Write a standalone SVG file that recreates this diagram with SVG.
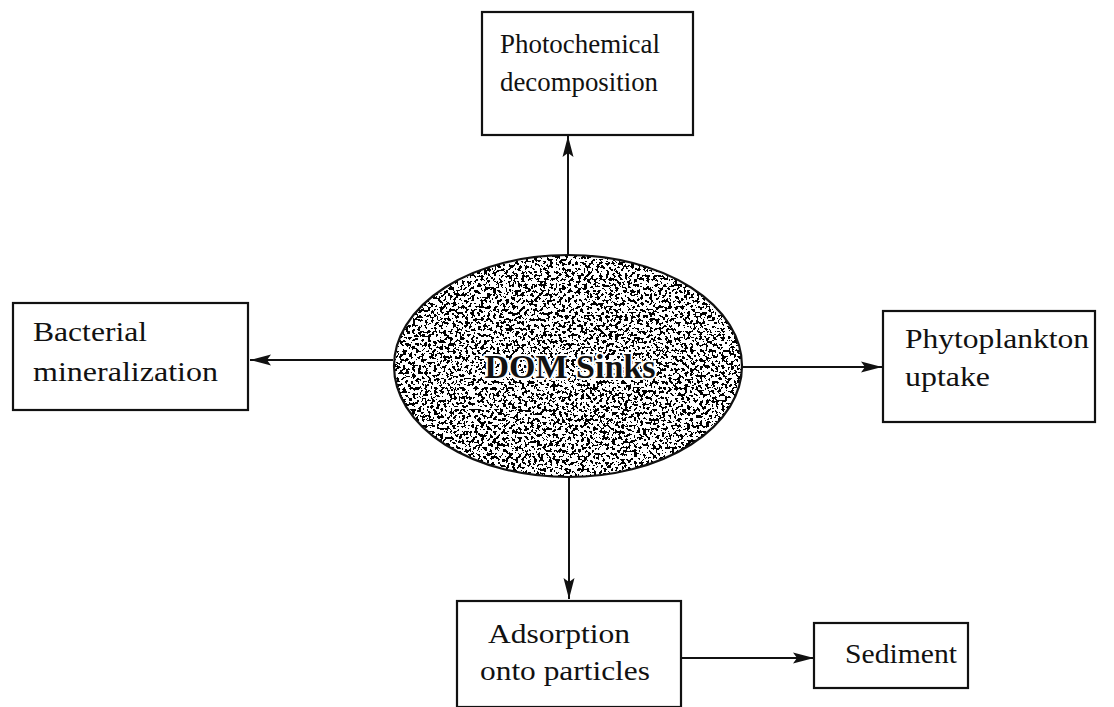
<svg xmlns="http://www.w3.org/2000/svg" width="1114" height="707" viewBox="0 0 1114 707">
  <style>
    .box { fill: #fff; stroke: #111; stroke-width: 2.2; }
    .lbl { font-family: "Liberation Serif", "Times New Roman", serif; font-size: 28px; fill: #111; }
    .conn { stroke: #111; stroke-width: 2; fill: none; marker-end: url(#arrow); }
    .title { font-family: "Liberation Serif", "Times New Roman", serif; font-weight: bold; font-size: 34px; fill: #111; stroke: #fff; stroke-width: 4; paint-order: stroke; stroke-linejoin: round; }
  </style>
  <defs>
    <marker id="arrow" markerUnits="userSpaceOnUse" markerWidth="22" markerHeight="12" refX="21" refY="6" orient="auto">
      <path d="M0,0.5 L21,6 L0,11.5 L4,6 Z" fill="#111"/>
    </marker>
    <!-- speckled grey fill for the central ellipse -->
    <filter id="grain" x="0" y="0" width="1" height="1">
      <feTurbulence type="fractalNoise" baseFrequency="0.32" numOctaves="2" seed="7" result="noise"/>
      <feColorMatrix in="noise" type="matrix" values="0 0 0 0 0  0 0 0 0 0  0 0 0 0 0  1 0 0 0 0" result="dots"/>
      <feComponentTransfer in="dots" result="bw">
        <feFuncA type="discrete" tableValues="0 0 0 0 0 0 1 1 1 1 1"/>
      </feComponentTransfer>
      <feComposite in="bw" in2="SourceAlpha" operator="in" result="clip"/>
      <feMerge>
        <feMergeNode in="SourceGraphic"/>
        <feMergeNode in="clip"/>
      </feMerge>
    </filter>
  </defs>

  <rect width="1114" height="707" fill="#fff"/>

  <g id="connectors">
    <line class="conn" x1="568" y1="255" x2="568" y2="136"/>
    <line class="conn" x1="393" y1="360" x2="250" y2="360"/>
    <line class="conn" x1="743" y1="367" x2="882" y2="367"/>
    <line class="conn" x1="569" y1="477" x2="569" y2="599"/>
    <line class="conn" x1="681" y1="658" x2="814" y2="658"/>
  </g>

  <g id="dom-sinks">
    <ellipse cx="568" cy="366" rx="174" ry="111" fill="#fff" filter="url(#grain)"/>
    <ellipse cx="568" cy="366" rx="174" ry="111" fill="none" stroke="#111" stroke-width="2.2"/>
    <text class="title" x="570" y="378" text-anchor="middle">DOM Sinks</text>
  </g>

  <g id="photochemical">
    <rect class="box" x="482" y="12" width="211" height="123"/>
    <text class="lbl" x="500" y="53" textLength="160" lengthAdjust="spacingAndGlyphs">Photochemical</text>
    <text class="lbl" x="500" y="91" textLength="158" lengthAdjust="spacingAndGlyphs">decomposition</text>
  </g>

  <g id="bacterial">
    <rect class="box" x="13" y="303" width="235" height="107"/>
    <text class="lbl" x="33" y="341" textLength="114" lengthAdjust="spacingAndGlyphs">Bacterial</text>
    <text class="lbl" x="33" y="381" textLength="185" lengthAdjust="spacingAndGlyphs">mineralization</text>
  </g>

  <g id="phytoplankton">
    <rect class="box" x="883" y="311" width="212" height="111"/>
    <text class="lbl" x="905" y="348" textLength="184" lengthAdjust="spacingAndGlyphs">Phytoplankton</text>
    <text class="lbl" x="905" y="386" textLength="85" lengthAdjust="spacingAndGlyphs">uptake</text>
  </g>

  <g id="adsorption">
    <rect class="box" x="457" y="601" width="224" height="106"/>
    <text class="lbl" x="488" y="643" textLength="142" lengthAdjust="spacingAndGlyphs">Adsorption</text>
    <text class="lbl" x="480" y="680" textLength="170" lengthAdjust="spacingAndGlyphs">onto particles</text>
  </g>

  <g id="sediment">
    <rect class="box" x="814" y="623" width="154" height="65"/>
    <text class="lbl" x="845" y="663" textLength="112" lengthAdjust="spacingAndGlyphs">Sediment</text>
  </g>
</svg>
